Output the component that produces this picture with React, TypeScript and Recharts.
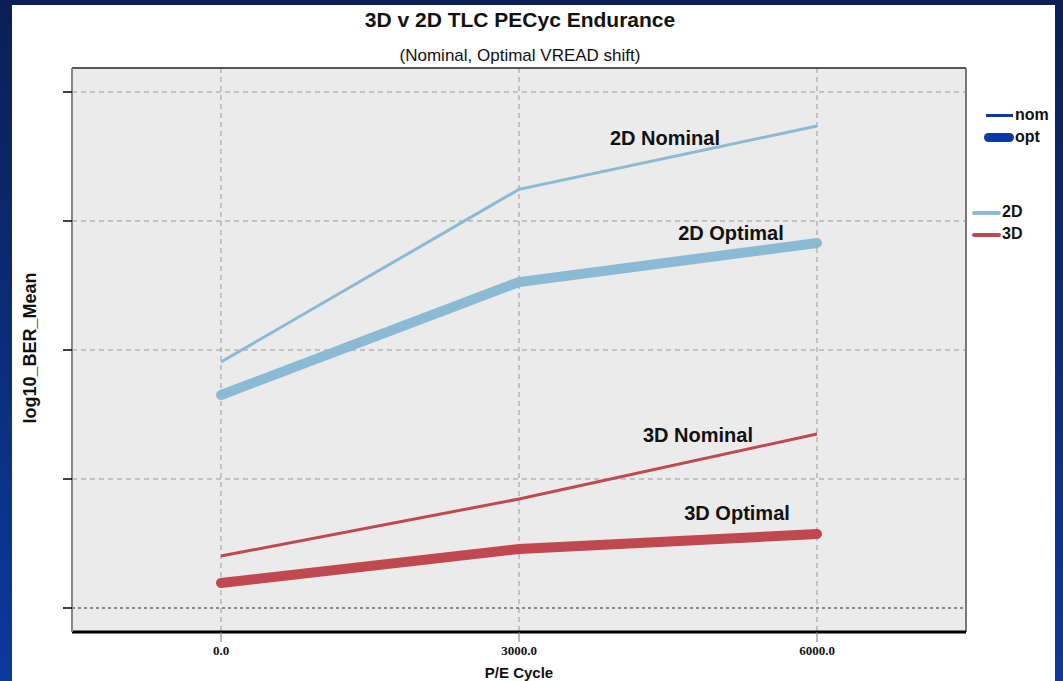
import { CartesianGrid, Line, LineChart, ReferenceDot, ReferenceLine, XAxis, YAxis } from "recharts";

// P/E cycles and log10 BER means
const peCycles = [0, 3000, 6000];
const nom2D = [1.907, 3.245, 3.736];
const opt2D = [1.651, 2.527, 2.829];
const nom3D = [0.403, 0.845, 1.349];
const opt3D = [0.194, 0.457, 0.574];

const xTicks = [0, 3000, 6000];
const yTicks = [0, 1, 2, 3, 4];

const data = peCycles.map((pe, i) => ({
  pe,
  nom2D: nom2D[i],
  opt2D: opt2D[i],
  nom3D: nom3D[i],
  opt3D: opt3D[i],
}));

const C2D = "#8bbad5";
const C3D = "#c04850";
const NAVY = "#0a3a9a";
const SANS = "'Liberation Sans', Arial, sans-serif";
const xDomain = [-1500, 7500];
const yDomain = [-0.186, 4.186];

const annoLabel = (value: string) => ({
  value,
  position: "center" as const,
  fill: "#111",
  fontSize: 20,
  fontWeight: 700,
  fontFamily: SANS,
});

export default function App() {
  return (
    <div
      style={{
        position: "absolute",
        left: 0,
        top: 0,
        width: 1063,
        height: 681,
        background: "linear-gradient(to bottom, #0b1f55, #0a3a9c)",
        fontFamily: SANS,
        overflow: "hidden",
      }}
    >
      <div style={{ position: "absolute", left: 12, top: 5, width: 1043, height: 676, background: "#fff" }} />
      <div style={{ position: "absolute", left: 0, top: 0 }}>
        <LineChart width={1063} height={681} data={data} margin={{ top: 68, right: 97, bottom: 0, left: 0 }}>
          <CartesianGrid
            stroke="#999"
            strokeDasharray="5 4"
            fill="#ebebeb"
            horizontalValues={yTicks.slice(1)}
            verticalValues={xTicks}
          />
          <XAxis
            dataKey="pe"
            type="number"
            domain={xDomain}
            ticks={xTicks}
            height={49}
            tickSize={10}
            tickMargin={4}
            tickFormatter={(v: number) => v.toFixed(1)}
            tick={{ fill: "#111", fontSize: 13, fontWeight: 700, fontFamily: "'Liberation Serif', serif" }}
            axisLine={{ stroke: "#000", strokeWidth: 3 }}
            tickLine={{ stroke: "#777" }}
            label={{
              value: "P/E Cycle",
              position: "insideBottom",
              offset: 3,
              fill: "#111",
              fontSize: 15,
              fontWeight: 700,
              fontFamily: SANS,
            }}
          />
          <YAxis
            type="number"
            domain={yDomain}
            ticks={yTicks}
            width={72}
            tickSize={9}
            tickFormatter={() => ""}
            axisLine={{ stroke: "#888", strokeWidth: 2 }}
            tickLine={{ stroke: "#000", strokeWidth: 1.5 }}
            label={{
              value: "log10_BER_Mean",
              content: (props: any) => {
                const vb = props.viewBox;
                const cx = 30;
                const cy = vb.y + vb.height / 2 - 2;
                return (
                  <text
                    x={cx}
                    y={cy}
                    transform={`rotate(-90 ${cx} ${cy})`}
                    textAnchor="middle"
                    dominantBaseline="central"
                    fill="#111"
                    fontSize={18}
                    fontWeight={700}
                    fontFamily={SANS}
                  >
                    log10_BER_Mean
                  </text>
                );
              },
            }}
          />
          {/* plot frame: top and right edges */}
          <ReferenceLine y={yDomain[1]} stroke="#222" strokeWidth={1.5} />
          <ReferenceLine x={xDomain[1]} stroke="#777" strokeWidth={2} />
          <ReferenceLine y={0} stroke="#888" strokeWidth={2} strokeDasharray="3 3" />

          <Line type="linear" dataKey="nom2D" stroke={C2D} strokeWidth={3} dot={false} isAnimationActive={false} />
          <Line
            type="linear"
            dataKey="opt2D"
            stroke={C2D}
            strokeWidth={10}
            strokeLinecap="round"
            dot={false}
            isAnimationActive={false}
          />
          <Line type="linear" dataKey="nom3D" stroke={C3D} strokeWidth={3} dot={false} isAnimationActive={false} />
          <Line
            type="linear"
            dataKey="opt3D"
            stroke={C3D}
            strokeWidth={10}
            strokeLinecap="round"
            dot={false}
            isAnimationActive={false}
          />

          <ReferenceDot x={4470} y={3.647} r={0} fill="none" stroke="none" label={annoLabel("2D Nominal")} />
          <ReferenceDot x={5134} y={2.907} r={0} fill="none" stroke="none" label={annoLabel("2D Optimal")} />
          <ReferenceDot x={4802} y={1.341} r={0} fill="none" stroke="none" label={annoLabel("3D Nominal")} />
          <ReferenceDot x={5195} y={0.736} r={0} fill="none" stroke="none" label={annoLabel("3D Optimal")} />
        </LineChart>
      </div>

      {/* titles */}
      <div style={{ position: "absolute", left: 0, width: 1040, top: 8, textAlign: "center", fontSize: 21, fontWeight: 700, color: "#111" }}>
        3D v 2D TLC PECyc Endurance
      </div>
      <div style={{ position: "absolute", left: 0, width: 1040, top: 46, textAlign: "center", fontSize: 17, color: "#111" }}>
        (Nominal, Optimal VREAD shift)
      </div>

      {/* legend */}
      <div style={{ position: "absolute", left: 986, top: 114, width: 27, height: 3, background: NAVY }} />
      <div style={{ position: "absolute", left: 1015, top: 106, fontSize: 16, fontWeight: 700, color: "#111" }}>nom</div>
      <div style={{ position: "absolute", left: 984, top: 133, width: 30, height: 9, borderRadius: 5, background: NAVY }} />
      <div style={{ position: "absolute", left: 1015, top: 128, fontSize: 16, fontWeight: 700, color: "#111" }}>opt</div>
      <div style={{ position: "absolute", left: 972, top: 211, width: 29, height: 4, borderRadius: 2, background: C2D }} />
      <div style={{ position: "absolute", left: 1002, top: 203, fontSize: 16, fontWeight: 700, color: "#111" }}>2D</div>
      <div style={{ position: "absolute", left: 972, top: 233, width: 29, height: 4, borderRadius: 2, background: C3D }} />
      <div style={{ position: "absolute", left: 1002, top: 225, fontSize: 16, fontWeight: 700, color: "#111" }}>3D</div>
    </div>
  );
}
